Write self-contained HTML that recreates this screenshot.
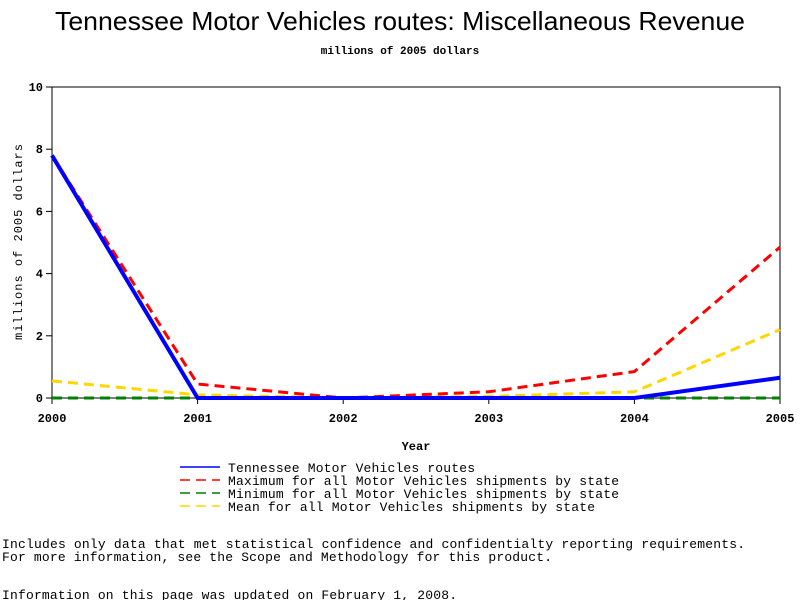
<!DOCTYPE html>
<html><head><meta charset="utf-8"><style>
body{margin:0;background:#fff;width:800px;height:600px;overflow:hidden}
svg{display:block}
text{font-family:"Liberation Mono",monospace;fill:#000}
</style></head><body>
<svg id="chart" width="800" height="600">
<text x="55" y="30" textLength="690" lengthAdjust="spacingAndGlyphs" style="font-family:'Liberation Sans',sans-serif;font-size:26px">Tennessee Motor Vehicles routes: Miscellaneous Revenue</text>
<text x="400" y="54" text-anchor="middle" style="font-size:11px;font-weight:bold">millions of 2005 dollars</text>
<rect x="52" y="87" width="728" height="311" fill="none" stroke="#000" stroke-width="1"/>
<g id="axes"></g>
<g id="series"></g>
<text x="416" y="450" text-anchor="middle" style="font-size:12px;font-weight:bold">Year</text>
<text transform="translate(22,242) rotate(-90)" text-anchor="middle" textLength="196" style="font-size:12px">millions of 2005 dollars</text>
<g id="legend"></g>
<text x="2" y="548" textLength="743" style="font-size:13px">Includes only data that met statistical confidence and confidentialty reporting requirements.</text>
<text x="2" y="561" textLength="550" style="font-size:13px">For more information, see the Scope and Methodology for this product.</text>
<text x="2" y="599" textLength="455" style="font-size:13px">Information on this page was updated on February 1, 2008.</text>
</svg>
<script>
const years=[2000,2001,2002,2003,2004,2005];
const yTicks=[0,2,4,6,8,10];
const tennessee=[7.8,0,0,0,0,0.65];
const maximum=[7.8,0.45,0.0,0.2,0.85,4.85];
const minimum=[0,0,0,0,0,0];
const mean=[0.55,0.1,0,0.05,0.2,2.2];
const NS='http://www.w3.org/2000/svg';
const x=y=>52+(y-2000)*(728/5);
const yv=v=>398-v*31.1;
function mk(t,a,p){const e=document.createElementNS(NS,t);for(const k in a)e.setAttribute(k,a[k]);p.appendChild(e);return e;}
const ax=document.getElementById('axes');
yTicks.forEach(t=>{
 const l=mk('line',{x1:46,x2:52,y1:yv(t),y2:yv(t),stroke:'#000'},ax);
 
 
 const tx=mk('text',{x:43,y:yv(t)+4,'text-anchor':'end',style:'font-size:12px;font-weight:bold'},ax);
 tx.textContent=t;
 
 
});
years.forEach(yr=>{
 const l=mk('line',{x1:x(yr),x2:x(yr),y1:398,y2:404,stroke:'#000'},ax);
 
 
 const tx=mk('text',{x:x(yr),y:422,'text-anchor':'middle',style:'font-size:12px;font-weight:bold'},ax);
 tx.textContent=yr;
 
 
});
const sg=document.getElementById('series');
const defs=[[minimum,'#008000','10,6',3,'series-minimum'],[mean,'#ffd700','10,6',3,'series-mean'],[maximum,'#ff0000','10,6',3,'series-maximum'],[tennessee,'#0000ff','none',4,'series-tennessee']];
defs.forEach(([d,c,da,w,n])=>{
 const p=mk('polyline',{points:d.map((v,i)=>x(years[i])+','+yv(v)).join(' '),fill:'none',stroke:c,'stroke-width':w,'stroke-dasharray':da},sg);
 
 
});
const lg=document.getElementById('legend');
const items=[['Tennessee Motor Vehicles routes','#0000ff','none',247],['Maximum for all Motor Vehicles shipments by state','#ff0000','10,6',391],['Minimum for all Motor Vehicles shipments by state','#008000','10,6',391],['Mean for all Motor Vehicles shipments by state','#ffd700','10,6',367]];
items.forEach(([t,c,da,w],i)=>{
 const yy=467+i*13;
 const l=mk('line',{x1:180,x2:220,y1:yy,y2:yy,stroke:c,'stroke-width':1.5,'stroke-dasharray':da},lg);
 
 
 const tx=mk('text',{x:228,y:yy+5,textLength:w,style:'font-size:13px'},lg);
 tx.textContent=t;
 
 
});
</script>
</body></html>
